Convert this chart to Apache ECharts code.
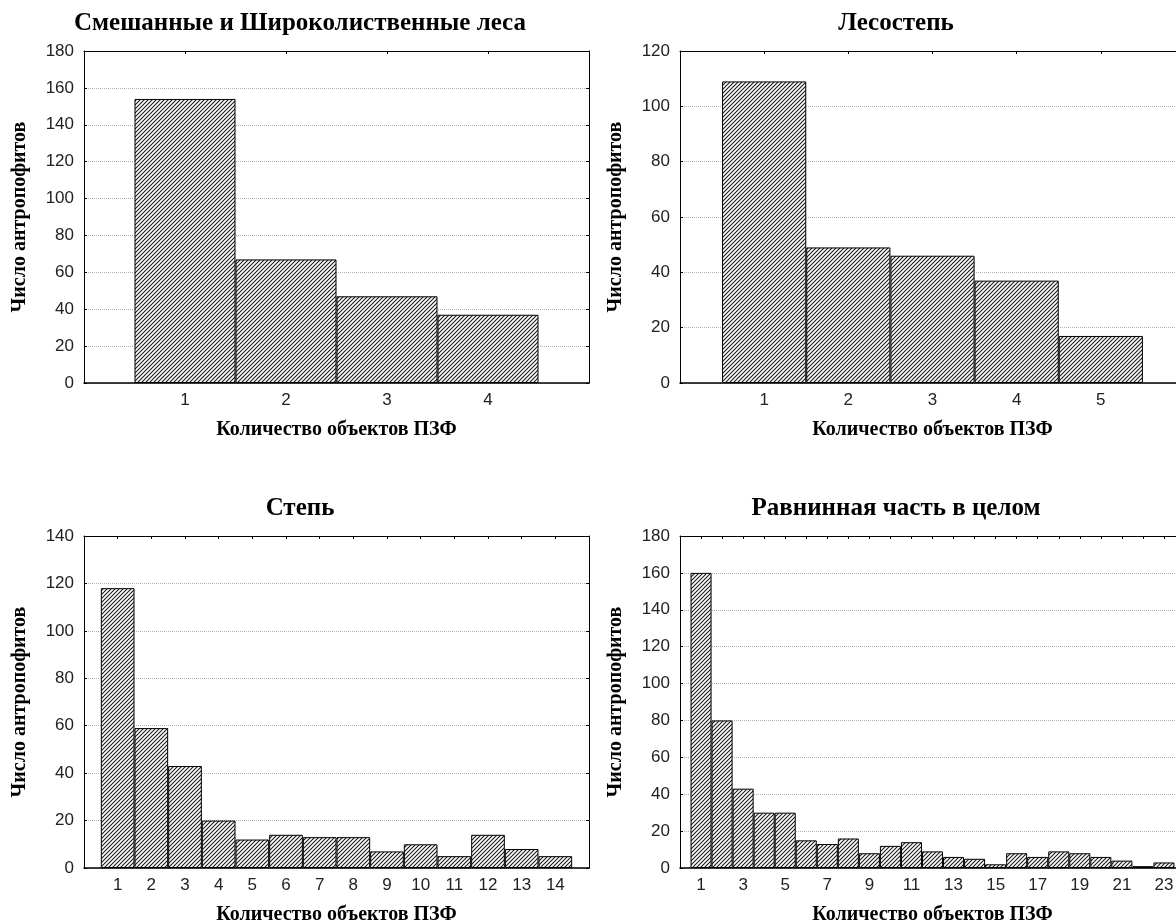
<!DOCTYPE html>
<html>
<head>
<meta charset="utf-8">
<script src="https://cdn.jsdelivr.net/npm/echarts@6/dist/echarts.min.js"></script>
<style>
  html, body { margin: 0; padding: 0; background: #fff; overflow: hidden; }
  #main { width: 1176px; height: 923px; }
</style>
</head>
<body>
<div id="main"></div>
<script>
var forestX = [1, 2, 3, 4];
var forestY = [154, 67, 47, 37];

var forestSteppeX = [1, 2, 3, 4, 5];
var forestSteppeY = [109, 49, 46, 37, 17];

var steppeX = [1, 2, 3, 4, 5, 6, 7, 8, 9, 10, 11, 12, 13, 14];
var steppeY = [118, 59, 43, 20, 12, 14, 13, 13, 7, 10, 5, 14, 8, 5];

var plainX = [1, 2, 3, 4, 5, 6, 7, 8, 9, 10, 11, 12, 13, 14, 15, 16, 17, 18, 19, 20, 21, 22, 23];
var plainY = [160, 80, 43, 30, 30, 15, 13, 16, 8, 12, 14, 9, 6, 5, 2, 8, 6, 9, 8, 6, 4, 1, 3];

var titles = ["Смешанные и Широколиственные леса", "Лесостепь", "Степь", "Равнинная часть в целом"];
var xName = "Количество объектов ПЗФ";
var yName = "Число антропофитов";

var panels = [
  { x: forestX, y: forestY, xMax: 5, yMax: 180, left: 84, top: 51, step: 1 },
  { x: forestSteppeX, y: forestSteppeY, xMax: 6, yMax: 120, left: 680, top: 51, step: 1 },
  { x: steppeX, y: steppeY, xMax: 15, yMax: 140, left: 84, top: 536, step: 1 },
  { x: plainX, y: plainY, xMax: 24, yMax: 180, left: 680, top: 536, step: 2 }
];

var PLOT_W = 505, PLOT_H = 332;
var serif = "'Liberation Serif', 'DejaVu Serif', serif";
var sans = "'Liberation Sans', Arial, sans-serif";

// штриховка ////
function hatch() {
  var c = document.createElement("canvas");
  c.width = 4; c.height = 4;
  var ctx = c.getContext("2d");
  ctx.fillStyle = "#fff";
  ctx.fillRect(0, 0, 4, 4);
  ctx.strokeStyle = "#1a1a1a";
  ctx.lineWidth = 1.1;
  ctx.beginPath();
  ctx.moveTo(0, 4); ctx.lineTo(4, 0);
  ctx.moveTo(-1, 1); ctx.lineTo(1, -1);
  ctx.moveTo(3, 5); ctx.lineTo(5, 3);
  ctx.stroke();
  return c;
}
var pattern = { image: hatch(), repeat: "repeat" };

var grid = [], xAxis = [], yAxis = [], series = [], title = [];

panels.forEach(function (p, i) {
  // правые графики обрезаны краем картинки, поэтому рамку не подгоняем
  grid.push({ left: p.left, top: p.top, width: PLOT_W, height: PLOT_H, outerBoundsMode: "none" });

  title.push({
    text: titles[i],
    left: p.left + 216,
    top: p.top - 40,
    padding: 0,
    textAlign: "center",
    textStyle: { fontFamily: serif, fontWeight: "bold", fontSize: 25, color: "#000" }
  });

  // нижняя ось
  xAxis.push({
    gridIndex: i, type: "value", position: "bottom",
    min: 0, max: p.xMax, interval: 1,
    axisLine: { show: true, onZero: false, lineStyle: { color: "#000", width: 1.5 } },
    axisTick: { show: false },
    splitLine: { show: false },
    axisLabel: {
      fontFamily: sans, fontSize: 17, color: "#222", margin: 9,
      formatter: function (v) {
        if (v <= 0 || v >= p.xMax) return "";
        if (p.step === 2 && v % 2 === 0) return "";
        return String(v);
      }
    },
    name: xName, nameLocation: "middle", nameGap: 37,
    nameTextStyle: { fontFamily: serif, fontWeight: "bold", fontSize: 20, color: "#000" }
  });
  // верхняя рамка с засечками
  xAxis.push({
    gridIndex: i, type: "value", position: "top",
    min: 0, max: p.xMax, interval: 1,
    axisLine: { show: true, onZero: false, lineStyle: { color: "#000", width: 1 } },
    axisTick: { show: true, inside: true, length: 3, lineStyle: { color: "#000" } },
    axisLabel: { show: false },
    splitLine: { show: false }
  });

  yAxis.push({
    gridIndex: i, type: "value", position: "left",
    min: 0, max: p.yMax, interval: 20,
    axisLine: { show: true, onZero: false, lineStyle: { color: "#000", width: 1 } },
    axisTick: { show: true, inside: true, length: 3, lineStyle: { color: "#000" } },
    axisLabel: { fontFamily: sans, fontSize: 17, color: "#222", margin: 10 },
    splitLine: { show: true, lineStyle: { type: "dotted", color: "#b0b0b0", width: 1 } },
    name: yName, nameLocation: "middle", nameRotate: 90, nameGap: 54,
    nameTextStyle: { fontFamily: serif, fontWeight: "bold", fontSize: 20, color: "#000" }
  });
  yAxis.push({
    gridIndex: i, type: "value", position: "right",
    min: 0, max: p.yMax, interval: 20,
    axisLine: { show: true, onZero: false, lineStyle: { color: "#000", width: 1 } },
    axisTick: { show: true, inside: true, length: 3, lineStyle: { color: "#000" } },
    axisLabel: { show: false },
    splitLine: { show: false }
  });

  series.push({
    type: "bar",
    xAxisIndex: i * 2,
    yAxisIndex: i * 2,
    barCategoryGap: "0%",
    silent: true,
    itemStyle: { color: pattern, borderColor: "#000", borderWidth: 1 },
    data: p.x.map(function (x, k) { return [x, p.y[k]]; })
  });
});

var chart = echarts.init(document.getElementById("main"), null, { renderer: "canvas" });
chart.setOption({
  backgroundColor: "#fff",
  animation: false,
  title: title,
  grid: grid,
  xAxis: xAxis,
  yAxis: yAxis,
  series: series
});
</script>
</body>
</html>
